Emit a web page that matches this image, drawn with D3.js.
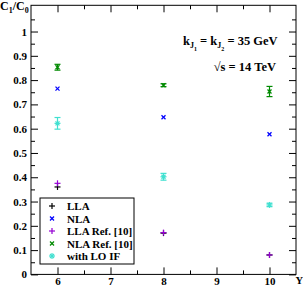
<!DOCTYPE html>
<html>
<head>
<meta charset="utf-8">
<script src="https://cdn.jsdelivr.net/npm/d3@7"></script>
<style>
  body { margin: 0; background: #fff; }
  svg text { font-family: "Liberation Serif", "DejaVu Serif", serif; font-weight: bold; }
</style>
</head>
<body>
<script>
// rapidity values and ratio C1/C0 per series
const rapidity = [6, 8, 10];
const lla = [0.36, 0.17, 0.08];
const nla = [0.765, 0.647, 0.577];
const llaRef = [0.375, 0.172, 0.08];
const nlaRef = [0.853, 0.779, 0.753];
const nlaRefErr = [0.012, 0.006, 0.021];
const loIF = [0.622, 0.402, 0.286];
const loIFErr = [0.024, 0.014, 0.007];

const xMajor = [6, 7, 8, 9, 10];
const xMinor = [6.5, 7.5, 8.5, 9.5];
const yMajor = [0, 0.1, 0.2, 0.3, 0.4, 0.5, 0.6, 0.7, 0.8, 0.9, 1];
const yMinor = [0.05, 0.15, 0.25, 0.35, 0.45, 0.55, 0.65, 0.75, 0.85, 0.95, 1.05];

const series = [
  {name: 'LLA', vals: lla, color: '#000000', sym: 'plus'},
  {name: 'NLA', vals: nla, color: '#0000ff', sym: 'cross'},
  {name: 'LLA Ref. [10]', vals: llaRef, color: '#9400d3', sym: 'plus'},
  {name: 'NLA Ref. [10]', vals: nlaRef, err: nlaRefErr, color: '#008a00', sym: 'cross'},
  {name: 'with LO IF', vals: loIF, err: loIFErr, color: '#40e0d0', sym: 'star'}
];

const [w, h] = [303, 287];
const margin = {left: 31, right: 7, top: 5.3, bottom: 12.6};

const svg = d3.select('body').append('svg')
    .attr('width', w)
    .attr('height', h);

const x = d3.scaleLinear().domain([5.5, 10.5]).range([margin.left, w - margin.right]);
const y = d3.scaleLinear().domain([0, 1.108]).range([h - margin.bottom, margin.top]);

// frame
svg.append('rect')
    .attr('x', x(5.5)).attr('y', y(1.108))
    .attr('width', x(10.5) - x(5.5))
    .attr('height', y(0) - y(1.108))
    .attr('fill', 'none').attr('stroke', '#000').attr('stroke-width', 1);

function addAxis(axis, tx, ty, labels) {
  const g = svg.append('g')
      .attr('transform', `translate(${tx},${ty})`)
      .call(axis);
  g.select('.domain').remove();
  g.selectAll('line').attr('stroke', '#000');
  if (!labels) g.selectAll('text').remove();
  return g;
}

const fmtY = d => d === 0 ? '0' : d === 1 ? '1' : d3.format('.1f')(d);

// left
addAxis(d3.axisLeft(y).tickValues(yMajor).tickSize(-7).tickPadding(4).tickFormat(fmtY), x(5.5), 0, true)
  .selectAll('text').attr('font-size', 11).attr('fill', '#000');
addAxis(d3.axisLeft(y).tickValues(yMinor).tickSize(-4), x(5.5), 0, false);
// right
addAxis(d3.axisRight(y).tickValues(yMajor).tickSize(-7), x(10.5), 0, false);
addAxis(d3.axisRight(y).tickValues(yMinor).tickSize(-4), x(10.5), 0, false);
// bottom
addAxis(d3.axisBottom(x).tickValues(xMajor).tickSize(-7).tickPadding(3).tickFormat(d3.format('d')), 0, y(0), true)
  .selectAll('text').attr('font-size', 11).attr('fill', '#000');
addAxis(d3.axisBottom(x).tickValues(xMinor).tickSize(-4), 0, y(0), false);
// top
addAxis(d3.axisTop(x).tickValues(xMajor).tickSize(-7), 0, y(1.108), false);
addAxis(d3.axisTop(x).tickValues(xMinor).tickSize(-4), 0, y(1.108), false);

// axis titles
const yt = svg.append('text').attr('x', 0).attr('y', 10).attr('font-size', 12);
yt.append('tspan').text('C');
yt.append('tspan').attr('dy', 3).attr('font-size', 8).text('1');
yt.append('tspan').attr('dy', -3).text('/C');
yt.append('tspan').attr('dy', 3).attr('font-size', 8).text('0');

svg.append('text').attr('x', 295.5).attr('y', 284).attr('font-size', 10.5).text('Y');

// annotation
const an = svg.append('text').attr('x', 183).attr('y', 45).attr('font-size', 12.5);
an.append('tspan').text('k');
an.append('tspan').attr('dy', 3).attr('font-size', 8).text('J');
an.append('tspan').attr('dy', 3).attr('font-size', 6).text('1');
an.append('tspan').attr('dy', -6).text(' = k');
an.append('tspan').attr('dy', 3).attr('font-size', 8).text('J');
an.append('tspan').attr('dy', 3).attr('font-size', 6).text('2');
an.append('tspan').attr('dy', -6).text(' = 35 GeV');

svg.append('text').attr('x', 276).attr('y', 71).attr('font-size', 12.5)
    .attr('text-anchor', 'end').text('\u221As = 14 TeV');

// symbols
function drawSymbol(g, sym, cx, cy, color) {
  const s = g.append('g').attr('transform', `translate(${cx},${cy})`)
      .attr('stroke', color).attr('stroke-width', 1.2).attr('fill', 'none');
  if (sym === 'plus' || sym === 'star') {
    s.append('line').attr('x1', -3).attr('x2', 3).attr('y1', 0).attr('y2', 0);
    s.append('line').attr('x1', 0).attr('x2', 0).attr('y1', -3).attr('y2', 3);
  }
  if (sym === 'cross' || sym === 'star') {
    s.append('line').attr('x1', -2).attr('x2', 2).attr('y1', -2).attr('y2', 2);
    s.append('line').attr('x1', -2).attr('x2', 2).attr('y1', 2).attr('y2', -2);
  }
}

const marks = svg.append('g');
series.forEach(s => {
  rapidity.forEach((r, i) => {
    if (s.err) {
      const e = marks.append('g').attr('stroke', s.color).attr('stroke-width', 1.2);
      const y1 = y(s.vals[i] - s.err[i]), y2 = y(s.vals[i] + s.err[i]);
      e.append('line').attr('x1', x(r)).attr('x2', x(r)).attr('y1', y1).attr('y2', y2);
      e.append('line').attr('x1', x(r) - 3).attr('x2', x(r) + 3).attr('y1', y1).attr('y2', y1);
      e.append('line').attr('x1', x(r) - 3).attr('x2', x(r) + 3).attr('y1', y2).attr('y2', y2);
    }
    drawSymbol(marks, s.sym, x(r), y(s.vals[i]), s.color);
  });
});

// legend
const legend = svg.append('g').attr('transform', 'translate(40,198)');
legend.append('rect').attr('width', 94).attr('height', 66)
    .attr('fill', '#fff').attr('stroke', '#000');
series.forEach((s, i) => {
  const ly = 8 + i * 12.5;
  drawSymbol(legend, s.sym, 12, ly, s.color);
  legend.append('text').attr('x', 27).attr('y', ly + 4)
      .attr('font-size', 11).text(s.name);
});
</script>
</body>
</html>
